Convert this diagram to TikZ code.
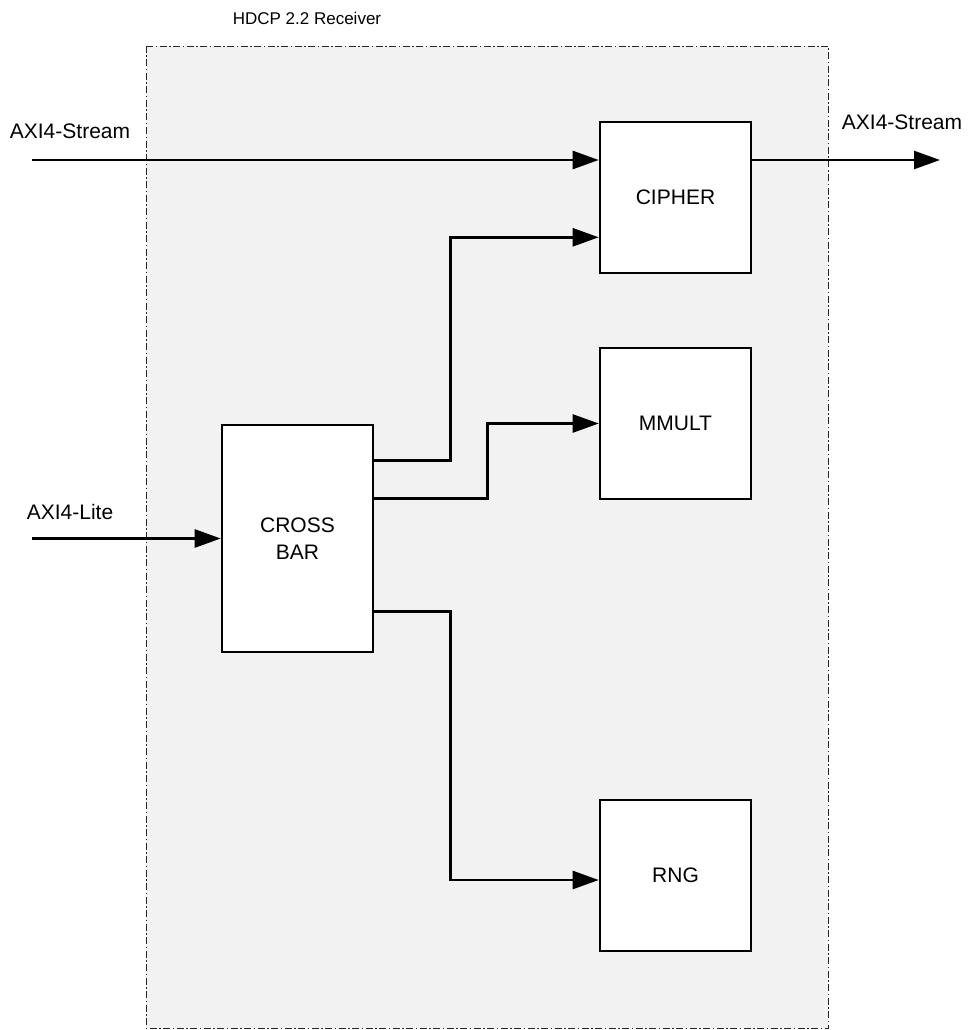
\documentclass[tikz,border=0pt]{standalone}
\usepackage{fontspec}
\setmainfont{Liberation Sans}
\usetikzlibrary{arrows.meta,calc}
\begin{document}
\begin{tikzpicture}[x=1pt,y=1pt,
  blk/.style={draw=black,fill=white,line width=2.6pt,inner sep=0pt,minimum width=151pt,minimum height=151pt,align=center,font=\fontsize{21}{27}\selectfont},
  arr/.style={line width=2.6pt,-{Triangle[length=26pt,width=18pt]}},
  wire/.style={line width=2.6pt},
  lbl/.style={inner sep=0pt,font=\fontsize{21}{25}\selectfont},
  region/.style={draw=black!85,fill=black!5,line width=0.9pt,dash pattern=on 7pt off 2.5pt on 1.5pt off 2.5pt}
]
\useasboundingbox (0,0) rectangle (967,-1030);
\path[region] (146,-46) rectangle (828,-1028);
\node[lbl,font=\fontsize{17}{20}\selectfont] (title) at (307,-18) {HDCP 2.2 Receiver};

\node[blk] (cipher) at (675.5,-197.5) {CIPHER};
\node[blk] (mmult) at (675.5,-423.5) {MMULT};
\node[blk] (rng) at (675.5,-875.5) {RNG};
\node[blk,minimum height=227pt] (xbar) at (297.5,-538.5) {CROSS\\BAR};

\coordinate (sin) at (32,-160);
\coordinate (sout) at (940,-160);
\coordinate (lin) at (32,-538.5);

\node[lbl] (lsin) at (70,-131) {AXI4-Stream};
\node[lbl] (lsout) at (902,-122) {AXI4-Stream};
\node[lbl] (llite) at (70,-512) {AXI4-Lite};

\draw[arr] (sin) -- (sin -| cipher.west);
\draw[arr] (sin -| cipher.east) -- (sout);
\draw[arr] (lin) -- (xbar.west);
\draw[arr] ($(xbar.north east)+(0,-37)$) -- ++(76,0) |- ($(cipher.south west)+(0,37)$);
\draw[arr] ($(xbar.north east)+(0,-75)$) -- ++(113,0) |- (mmult.west);
\draw[arr] ($(xbar.north east)+(0,-188)$) -- ++(76,0) |- ($(rng.west)+(0,-4.5)$);
\end{tikzpicture}
\end{document}
